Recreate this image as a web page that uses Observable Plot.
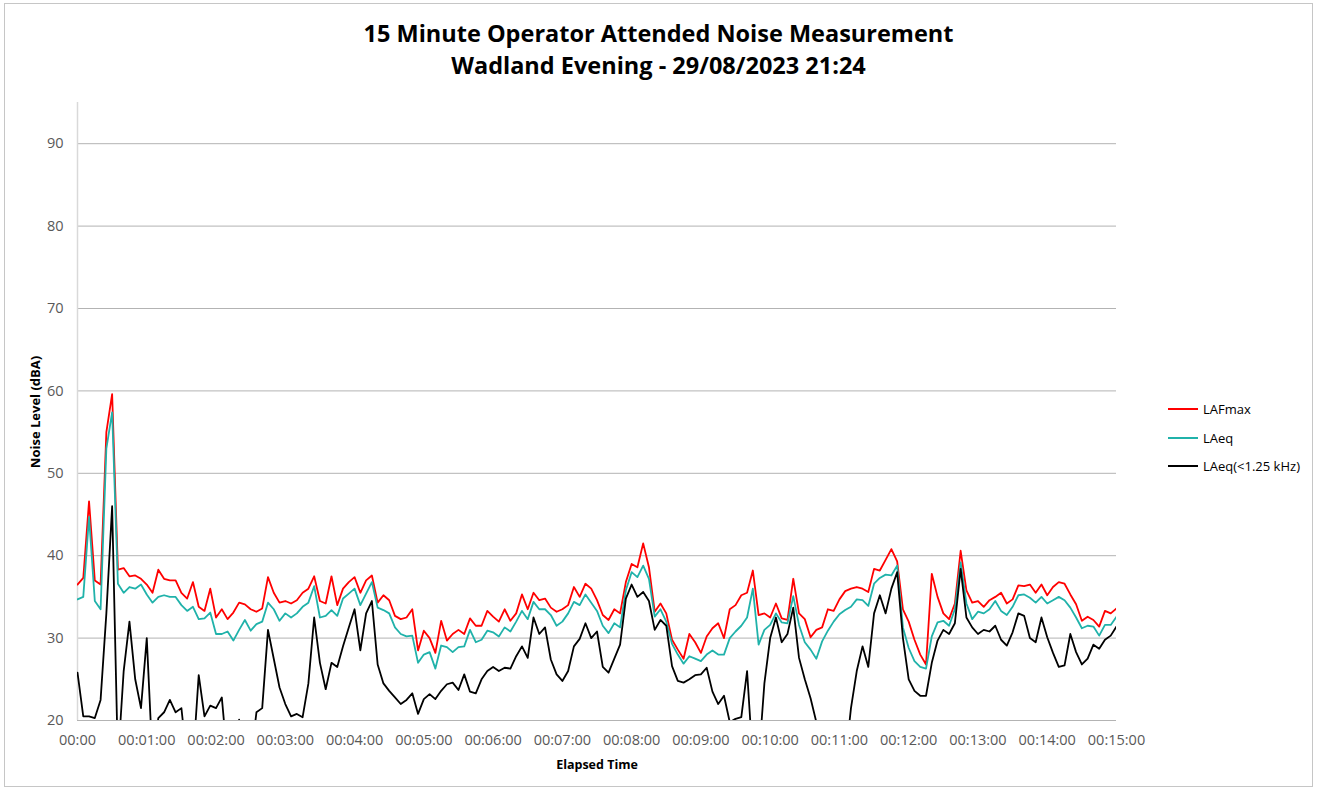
<!DOCTYPE html>
<html>
<head>
<meta charset="utf-8">
<script src="https://cdn.jsdelivr.net/npm/d3@7"></script>
<script src="https://cdn.jsdelivr.net/npm/@observablehq/plot@0.6"></script>
<style>
  body { margin: 0; background: #fff; font-family: "Open Sans", sans-serif; }
  #wrap { position: relative; width: 1317px; height: 791px; overflow: hidden; }
  #frame { position: absolute; left: 4px; top: 3px; width: 1309px; height: 784px; border: 1px solid #c6c6c6; box-sizing: border-box; }
  #chart { position: absolute; left: 0; top: 0; }
  #title { position: absolute; left: 0; top: 17px; width: 1317px; text-align: center; font-weight: bold; font-size: 23.5px; line-height: 32px; color: #000; }
  #ylabel { position: absolute; left: 35px; top: 412px; transform: translate(-50%, -50%) rotate(-90deg); font-weight: bold; font-size: 13px; color: #000; white-space: nowrap; }
  #xlabel { position: absolute; left: 597px; top: 764px; transform: translate(-50%, -50%); font-weight: bold; font-size: 12.5px; color: #000; white-space: nowrap; }
  .leg { position: absolute; left: 1168px; height: 20px; font-size: 13px; color: #000; white-space: nowrap; }
  .leg span.sw { position: absolute; left: 0; top: 9px; width: 30px; height: 2px; }
  .leg span.tx { position: absolute; left: 35px; top: 0; line-height: 20px; }
</style>
</head>
<body>
<div id="wrap">
  <div id="frame"></div>
  <div id="chart"></div>
  <div id="title"></div>
  <div id="ylabel"></div>
  <div id="xlabel"></div>
  <div id="legend"></div>
</div>
<script>
// ---- Data (5-second steps) ----
const titleLines = ["15 Minute Operator Attended Noise Measurement", "Wadland Evening - 29/08/2023 21:24"];
const yAxisTitle = "Noise Level (dBA)";
const xAxisTitle = "Elapsed Time";
const seriesNames = ["LAFmax", "LAeq", "LAeq(<1.25 kHz)"];
const seriesColors = ["#ff0000", "#20b2aa", "#000000"];

const yTicks = [20, 30, 40, 50, 60, 70, 80, 90];
const xTickSeconds = [0, 60, 120, 180, 240, 300, 360, 420, 480, 540, 600, 660, 720, 780, 840, 900];
const xTickLabels = ["00:00", "00:01:00", "00:02:00", "00:03:00", "00:04:00", "00:05:00", "00:06:00", "00:07:00",
  "00:08:00", "00:09:00", "00:10:00", "00:11:00", "00:12:00", "00:13:00", "00:14:00", "00:15:00"];

// elapsed seconds of each sample
const seconds = d3.range(0, 901, 5);

const lafmax = [
  36.5, 37.3, 46.6, 37.0, 36.5, 55.0, 59.6, 38.3, 38.5, 37.5, 37.6, 37.2, 36.5, 35.5, 38.3, 37.2, 37.0, 37.0, 35.5, 34.8,
  36.8, 33.8, 33.3, 36.0, 32.5, 33.5, 32.3, 33.1, 34.3, 34.1, 33.5, 33.2, 33.6, 37.4, 35.5, 34.3, 34.5, 34.2, 34.6, 35.5,
  36.0, 37.5, 34.5, 34.2, 37.5, 34.0, 36.0, 36.8, 37.4, 35.5, 37.0, 37.6, 34.3, 35.2, 34.6, 32.7, 32.3, 32.5, 33.5, 28.5,
  30.9, 30.0, 28.2, 32.1, 29.7, 30.5, 31.0, 30.5, 32.4, 31.5, 31.5, 33.3, 32.6, 32.0, 33.5, 32.1, 33.0, 35.3, 33.5, 35.5,
  34.6, 34.8, 33.7, 33.2, 33.5, 34.0, 36.2, 35.0, 36.6, 36.0, 34.6, 32.8, 32.2, 33.5, 33.0, 36.8, 39.0, 38.6, 41.5, 38.6,
  33.2, 34.2, 33.0, 29.8, 28.6, 27.5, 30.5, 29.5, 28.2, 30.2, 31.2, 31.8, 30.0, 33.5, 34.0, 35.2, 35.5, 38.2, 32.8, 33.0,
  32.5, 34.2, 32.4, 32.2, 37.2, 33.0, 32.3, 30.1, 31.0, 31.3, 33.5, 33.3, 34.7, 35.7, 36.0, 36.2, 36.0, 35.6, 38.4, 38.2,
  39.5, 40.8, 39.3, 33.5, 32.0, 29.8, 28.0, 26.8, 37.8, 35.0, 33.0, 32.3, 34.2, 40.6, 35.8, 34.3, 34.5, 33.8, 34.6, 35.0,
  35.5, 34.2, 34.7, 36.4, 36.3, 36.5, 35.5, 36.5, 35.2, 36.2, 36.8, 36.6, 35.3, 34.1, 32.1, 32.6, 32.2, 31.4, 33.3, 33.0,
  33.6
];

const laeq = [
  34.7, 35.0, 44.7, 34.5, 33.5, 53.0, 57.4, 36.6, 35.5, 36.2, 36.0, 36.5, 35.3, 34.3, 35.0, 35.2, 35.0, 35.0, 34.0, 33.3,
  33.8, 32.3, 32.4, 33.1, 30.5, 30.5, 30.8, 29.7, 31.0, 32.2, 30.9, 31.7, 32.0, 34.3, 33.5, 32.1, 33.0, 32.5, 33.0, 33.8,
  34.3, 36.3, 32.5, 32.7, 33.4, 32.7, 34.8, 35.4, 36.0, 34.0, 35.4, 36.8, 33.7, 33.4, 33.0, 31.3, 30.5, 30.2, 30.3, 27.0,
  28.0, 28.3, 26.3, 29.1, 28.9, 28.3, 28.9, 29.0, 31.0, 29.5, 29.8, 30.9, 30.7, 30.2, 31.3, 30.8, 32.0, 33.3, 32.3, 34.4,
  33.5, 33.5, 32.8, 31.5, 32.0, 33.0, 34.4, 34.0, 35.3, 34.3, 33.3, 31.5, 30.6, 31.8, 31.3, 35.8, 38.0, 37.4, 38.8, 37.2,
  32.6, 33.5, 32.0, 29.3, 28.0, 26.9, 27.8, 27.5, 27.2, 28.0, 28.5, 28.0, 28.0, 30.0, 30.8, 31.5, 32.5, 36.0, 29.2, 31.0,
  31.6, 33.0, 31.9, 31.8, 35.1, 31.6, 29.5, 28.6, 27.5, 29.6, 30.9, 32.0, 32.9, 33.4, 33.8, 34.7, 34.6, 33.9, 36.6, 37.3,
  37.7, 37.6, 38.8, 31.3, 28.8, 27.2, 26.5, 26.3, 30.2, 31.9, 32.1, 31.5, 33.5, 39.2, 34.2, 32.3, 33.2, 33.0, 33.5, 34.5,
  33.3, 32.8, 33.8, 35.2, 35.3, 34.9, 34.3, 35.0, 34.2, 34.6, 35.0, 34.6, 33.7, 32.5, 31.2, 31.5, 31.4, 30.3, 31.6, 31.6,
  32.6
];

// values below 20 dBA fall under the axis and are clipped
const laeqLow = [
  25.8, 20.5, 20.5, 20.3, 22.5, 33.0, 46.0, 15.0, 26.0, 32.0, 25.0, 21.5, 30.0, 15.0, 20.3, 21.0, 22.5, 21.0, 21.5, 15.0,
  15.0, 25.5, 20.5, 21.8, 21.5, 22.8, 15.0, 15.0, 20.1, 15.0, 15.0, 21.0, 21.5, 31.0, 27.5, 24.0, 22.0, 20.5, 20.8, 20.4,
  24.5, 32.5, 27.0, 23.8, 27.0, 26.5, 29.0, 31.3, 33.5, 28.5, 33.0, 34.5, 26.8, 24.5, 23.6, 22.8, 22.0, 22.5, 23.3, 20.8,
  22.6, 23.2, 22.6, 23.6, 24.4, 24.6, 23.7, 25.6, 23.5, 23.3, 25.0, 26.0, 26.5, 26.0, 26.4, 26.3, 27.8, 29.0, 27.6, 32.5,
  30.5, 31.3, 27.4, 25.6, 24.8, 26.0, 29.0, 29.9, 31.8, 30.0, 30.8, 26.5, 25.8, 27.5, 29.2, 34.8, 36.5, 35.0, 35.6, 34.5,
  31.0, 32.2, 31.5, 26.6, 24.8, 24.6, 25.0, 25.5, 25.6, 26.4, 23.5, 22.0, 23.0, 19.8, 20.2, 20.4, 26.0, 15.0, 15.0, 24.5,
  30.0, 32.5, 29.5, 30.5, 33.7, 27.6, 25.0, 22.7, 19.8, 15.0, 15.0, 15.0, 15.0, 15.0, 21.5, 26.0, 29.0, 26.5, 33.0, 35.2,
  33.0, 36.0, 38.0, 30.0, 25.0, 23.6, 23.0, 23.0, 27.0, 29.7, 31.0, 30.5, 31.8, 38.4, 32.5, 31.3, 30.5, 31.0, 30.8, 31.5,
  29.8, 29.1, 30.7, 33.0, 32.7, 30.0, 29.5, 32.5, 30.1, 28.2, 26.5, 26.7, 30.5, 28.3, 26.8, 27.5, 29.2, 28.7, 29.8, 30.3,
  31.4
];

// ---- Build rows ----
const seriesValues = [lafmax, laeq, laeqLow];
const rows = [];
seriesValues.forEach((vals, i) => {
  vals.forEach((v, j) => rows.push({series: seriesNames[i], t: seconds[j], v}));
});

const chart = Plot.plot({
  width: 1317,
  height: 791,
  marginLeft: 77,
  marginRight: 201,
  marginTop: 102,
  marginBottom: 71,
  x: {domain: [0, 900]},
  y: {domain: [20, 95]},
  color: {domain: seriesNames, range: seriesColors},
  style: {fontFamily: "Open Sans", fontSize: "14.5px", color: "#595959", background: "transparent"},
  marks: [
    Plot.ruleY(yTicks.filter(d => d > 20), {stroke: "#b3b3b3", strokeWidth: 1}),
    Plot.ruleX([0], {stroke: "#d9d9d9", strokeWidth: 1.5}),
    Plot.line(rows, {x: "t", y: "v", z: "series", stroke: "series", strokeWidth: 1.8, clip: true, curve: "linear"}),
    Plot.ruleY([20], {stroke: "#b3b3b3", strokeWidth: 1}),
    Plot.axisY({ticks: yTicks, tickSize: 0, tickPadding: 14, label: null}),
    Plot.axisX({ticks: xTickSeconds, tickSize: 0, tickPadding: 14, label: null,
      tickFormat: d => xTickLabels[xTickSeconds.indexOf(d)]})
  ]
});
document.getElementById("chart").appendChild(chart);

document.getElementById("title").innerHTML = titleLines.join("<br>");
document.getElementById("ylabel").textContent = yAxisTitle;
document.getElementById("xlabel").textContent = xAxisTitle;

const legendTops = [399, 428, 456];
const legend = document.getElementById("legend");
seriesNames.forEach((name, i) => {
  const d = document.createElement("div");
  d.className = "leg";
  d.style.top = legendTops[i] + "px";
  d.innerHTML = `<span class="sw" style="background:${seriesColors[i]}"></span><span class="tx"></span>`;
  d.querySelector(".tx").textContent = name;
  legend.appendChild(d);
});
</script>
</body>
</html>
